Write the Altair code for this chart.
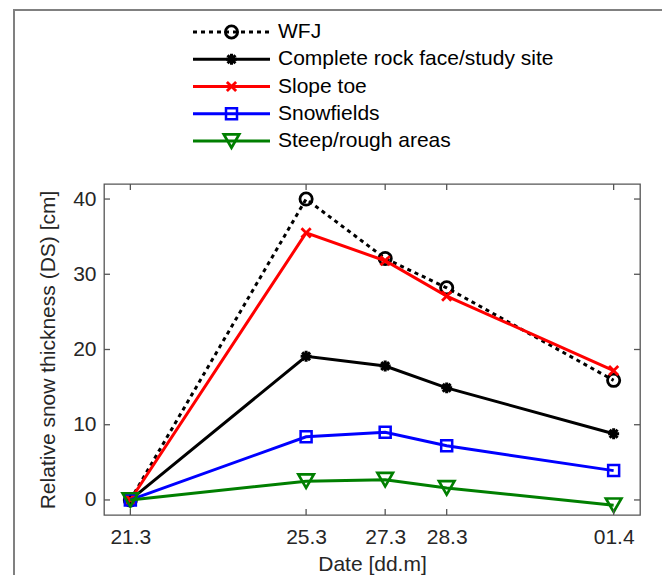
import altair as alt
import pandas as pd

# ---- data ----
date_labels = ["21.3", "25.3", "27.3", "28.3", "01.4"]
day_offsets = [0, 4.0, 5.8, 7.2, 11.0]   # acquisition time, days after the 21.3 survey
series_names = ["WFJ", "Complete rock face/study site", "Slope toe",
                "Snowfields", "Steep/rough areas"]
wfj = [0, 40.0, 32.1, 28.2, 15.9]
complete = [0, 19.1, 17.8, 14.9, 8.8]
slope_toe = [0, 35.5, 31.8, 27.1, 17.2]
snowfields = [0, 8.4, 9.0, 7.2, 3.9]
steep = [0, 2.5, 2.7, 1.6, -0.7]
y_tick_values = [0, 10, 20, 30, 40]

all_values = [wfj, complete, slope_toe, snowfields, steep]

# ---- styles ----
FONT = "Liberation Sans"
STAR = "M-1,0L1,0M0,-1L0,1M-0.72,-0.72L0.72,0.72M-0.72,0.72L0.72,-0.72"
XMARK = "M-1,-1L1,1M-1,1L1,-1"
styles = [
    dict(color="#000000", dash=[4, 4], shape="circle", size=150, sw=2.8),
    dict(color="#000000", dash=None, shape=STAR, size=120, sw=3),
    dict(color="#ff0000", dash=None, shape=XMARK, size=85, sw=2.8),
    dict(color="#0000ff", dash=None, shape="square", size=121, sw=2.5),
    dict(color="#007f00", dash=None, shape="triangle-down", size=240, sw=2.7),
]

W, H = 536, 331
AX_COL = "#555555"

rows = []
for name, vals in zip(series_names, all_values):
    for d, lab, v in zip(day_offsets, date_labels, vals):
        rows.append({"series": name, "day": d, "date": lab, "value": v})
df = pd.DataFrame(rows)

label_expr = " : ".join(f"datum.value == {d} ? '{l}'" for d, l in zip(day_offsets, date_labels)) + " : ''"

xscale = alt.Scale(domain=[-0.6, 11.6], nice=False, zero=False)
yscale = alt.Scale(domain=[-2, 42], nice=False, zero=False)
x_enc = alt.X("day:Q", scale=xscale,
              axis=alt.Axis(values=day_offsets, labelExpr=label_expr, title="Date [dd.m]",
                            labelPadding=11, titlePadding=6))
y_enc = alt.Y("value:Q", scale=yscale,
              axis=alt.Axis(values=y_tick_values, title="Relative snow thickness (DS) [cm]",
                            labelPadding=8, titlePadding=14))

main_layers = []

# outer figure frame
frame = alt.Chart(pd.DataFrame({"a": [0]})).mark_rect(
    fillOpacity=0, stroke="#808080", strokeWidth=2
).encode(x=alt.value(-90), x2=alt.value(562), y=alt.value(-174), y2=alt.value(420))
main_layers.append(frame)

for name, st in zip(series_names, styles):
    sub = df[df["series"] == name]
    line_kw = dict(color=st["color"], strokeWidth=3)
    if st["dash"]:
        line_kw["strokeDash"] = st["dash"]
    line = alt.Chart(sub).mark_line(**line_kw).encode(x=x_enc, y=y_enc)
    pts = alt.Chart(sub).mark_point(
        shape=st["shape"], size=st["size"], filled=False, opacity=1,
        color=st["color"], strokeWidth=st["sw"]
    ).encode(x=x_enc, y=y_enc)
    main_layers += [line, pts]

# inward ticks on all four sides
xt = pd.DataFrame({"day": day_offsets})
yt = pd.DataFrame({"value": y_tick_values})
tick_kw = dict(color=AX_COL, strokeWidth=1.3)
main_layers.append(alt.Chart(xt).mark_rule(**tick_kw).encode(x=x_enc, y=alt.value(H), y2=alt.value(H - 6)))
main_layers.append(alt.Chart(xt).mark_rule(**tick_kw).encode(x=x_enc, y=alt.value(0), y2=alt.value(6)))
main_layers.append(alt.Chart(yt).mark_rule(**tick_kw).encode(y=y_enc, x=alt.value(0), x2=alt.value(6)))
main_layers.append(alt.Chart(yt).mark_rule(**tick_kw).encode(y=y_enc, x=alt.value(W), x2=alt.value(W - 6)))

main_group = alt.layer(*main_layers)

# ---- manual legend above the plot ----
lx = alt.Scale(domain=[0, 1], range=[89, 166], nice=False, zero=False)
ly = alt.Scale(type="point", domain=series_names, range=[-152, -43], padding=0)
leg_layers = []
for name, st in zip(series_names, styles):
    ld = pd.DataFrame({"series": [name], "x0": [0], "x1": [1], "xm": [0.5]})
    rk = dict(color=st["color"], strokeWidth=3)
    if st["dash"]:
        rk["strokeDash"] = st["dash"]
    leg_layers.append(alt.Chart(ld).mark_rule(**rk).encode(
        x=alt.X("x0:Q", scale=lx, axis=None), x2="x1:Q",
        y=alt.Y("series:N", scale=ly, axis=None)))
    leg_layers.append(alt.Chart(ld).mark_point(
        shape=st["shape"], size=st["size"], filled=False, opacity=1,
        color=st["color"], strokeWidth=st["sw"]).encode(
        x=alt.X("xm:Q", scale=lx, axis=None),
        y=alt.Y("series:N", scale=ly, axis=None)))
    leg_layers.append(alt.Chart(ld).mark_text(
        align="left", baseline="middle", dx=8, font=FONT, fontSize=21, color="#000000").encode(
        x=alt.X("x1:Q", scale=lx, axis=None),
        y=alt.Y("series:N", scale=ly, axis=None),
        text="series:N"))
legend_group = alt.layer(*leg_layers)

chart = alt.layer(main_group, legend_group).resolve_scale(
    x="independent", y="independent"
).properties(
    width=W, height=H,
    padding={"left": 96, "top": 176, "right": 22, "bottom": 60},
    autosize=alt.AutoSizeParams(type="none"),
).configure(font=FONT).configure_view(
    stroke=AX_COL, strokeWidth=1.3
).configure_axis(
    domain=False, ticks=False, tickSize=0, grid=False,
    labelFont=FONT, labelFontSize=21, labelColor="#262626",
    titleFont=FONT, titleFontSize=21, titleFontWeight="normal", titleColor="#262626",
)

chart.save("out.html", embed_options={"renderer": "svg", "actions": False})
